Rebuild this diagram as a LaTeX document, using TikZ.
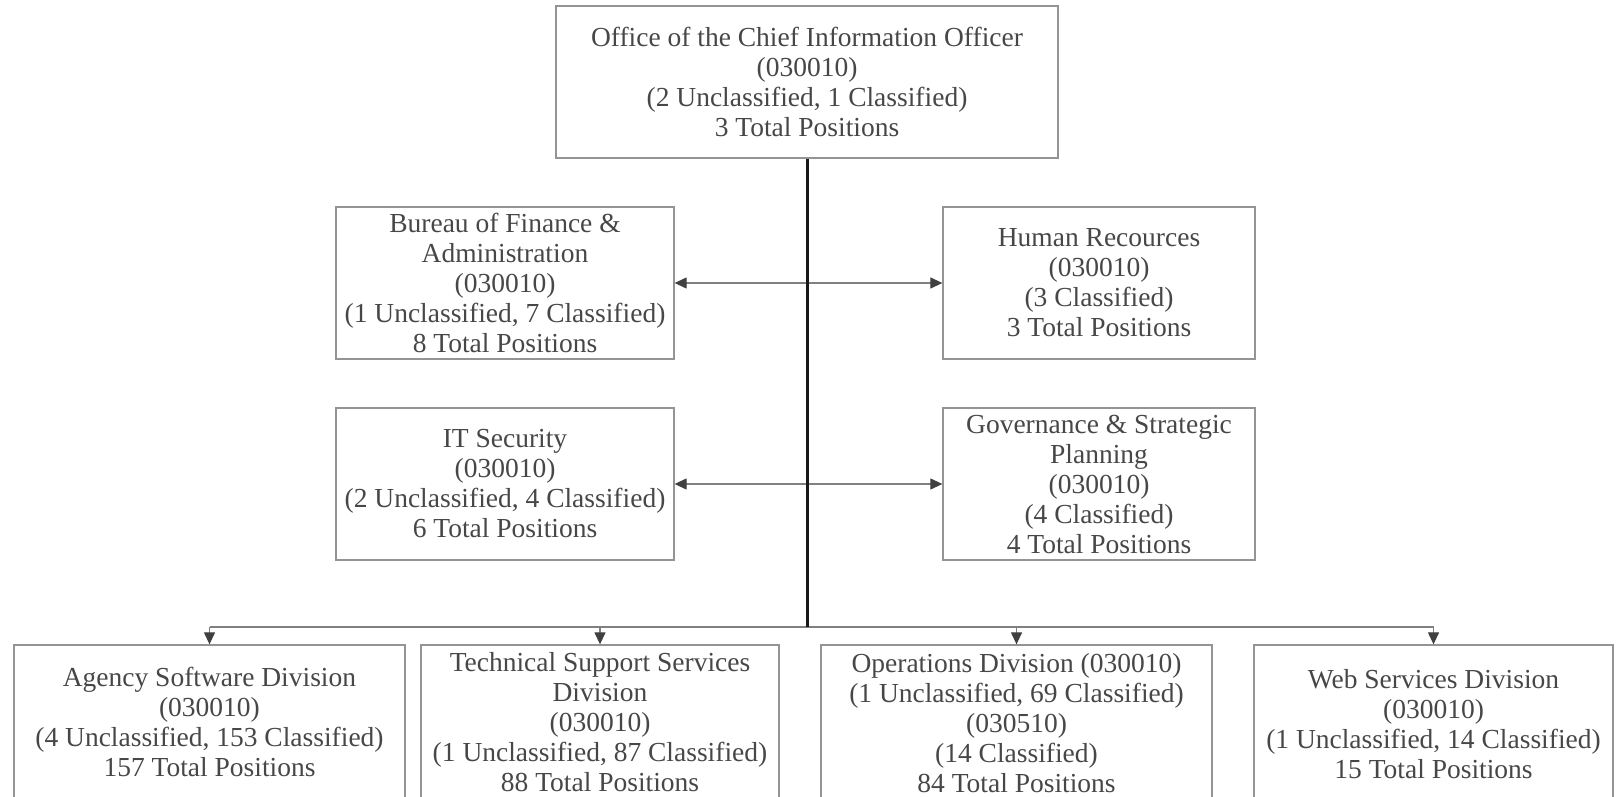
\documentclass[tikz,border=0pt]{standalone}
\usepackage{fontspec}
\setmainfont{Liberation Serif}
\usetikzlibrary{arrows.meta}
\begin{document}
\begin{tikzpicture}[x=1pt,y=-1pt,
  box/.style={draw=black!42, line width=1.3pt},
  txt/.style={align=center, text=black!72, font=\fontsize{27.5}{30}\selectfont, inner sep=0pt},
  link/.style={draw=black!50, line width=1.2pt, -{Triangle[length=12pt,width=11pt,color=black!75]}},
  rail/.style={draw=black!50, line width=1.2pt},
  trunk/.style={draw=black!90, line width=3pt}]
\useasboundingbox (0,0) rectangle (1617,797);
\clip (0,0) rectangle (1617,797);
% top
\node[box, txt, minimum width=502pt, minimum height=152pt] (cio) at (807,82)
  {Office of the Chief Information Officer\\(030010)\\(2 Unclassified, 1 Classified)\\3 Total Positions};
% staff boxes
\node[box, txt, minimum width=338pt, minimum height=152pt] (bfa) at (505,283)
  {Bureau of Finance \&\\Administration\\(030010)\\(1 Unclassified, 7 Classified)\\8 Total Positions};
\node[box, txt, minimum width=312pt, minimum height=152pt] (hr) at (1099,283)
  {Human Recources\\(030010)\\(3 Classified)\\3 Total Positions};
\node[box, txt, minimum width=338pt, minimum height=152pt] (its) at (505,484)
  {IT Security\\(030010)\\(2 Unclassified, 4 Classified)\\6 Total Positions};
\node[box, txt, minimum width=312pt, minimum height=152pt] (gov) at (1099,484)
  {Governance \& Strategic\\Planning\\(030010)\\(4 Classified)\\4 Total Positions};
% divisions (boxes run past the bottom edge)
\node[box, minimum width=391pt, minimum height=170pt] (agency) at (209.5,730) {};
\node[box, minimum width=358pt, minimum height=170pt] (tss) at (600,730) {};
\node[box, minimum width=391pt, minimum height=170pt] (ops) at (1016.5,730) {};
\node[box, minimum width=359pt, minimum height=170pt] (web) at (1433.5,730) {};
\node[txt] (agencyT) at (209.5,722) {Agency Software Division\\(030010)\\(4 Unclassified, 153 Classified)\\157 Total Positions};
\node[txt] (tssT) at (600,722) {Technical Support Services\\Division\\(030010)\\(1 Unclassified, 87 Classified)\\88 Total Positions};
\node[txt] (opsT) at (1016.5,723) {Operations Division (030010)\\(1 Unclassified, 69 Classified)\\(030510)\\(14 Classified)\\84 Total Positions};
\node[txt] (webT) at (1433.5,724) {Web Services Division\\(030010)\\(1 Unclassified, 14 Classified)\\15 Total Positions};
% connectors
\coordinate (hub) at (807,627);
\coordinate (j1) at (807,283);
\coordinate (j2) at (807,484);
\draw[link] (j1) -- (bfa.east);
\draw[link] (j1) -- (hr.west);
\draw[link] (j2) -- (its.east);
\draw[link] (j2) -- (gov.west);
\draw[rail] (agency.north |- hub) -- (web.north |- hub);
\draw[link] (agency.north |- hub) -- (agency.north);
\draw[link] (tss.north |- hub) -- (tss.north);
\draw[link] (ops.north |- hub) -- (ops.north);
\draw[link] (web.north |- hub) -- (web.north);
\draw[trunk] (cio.south) -- (hub);
\end{tikzpicture}
\end{document}
